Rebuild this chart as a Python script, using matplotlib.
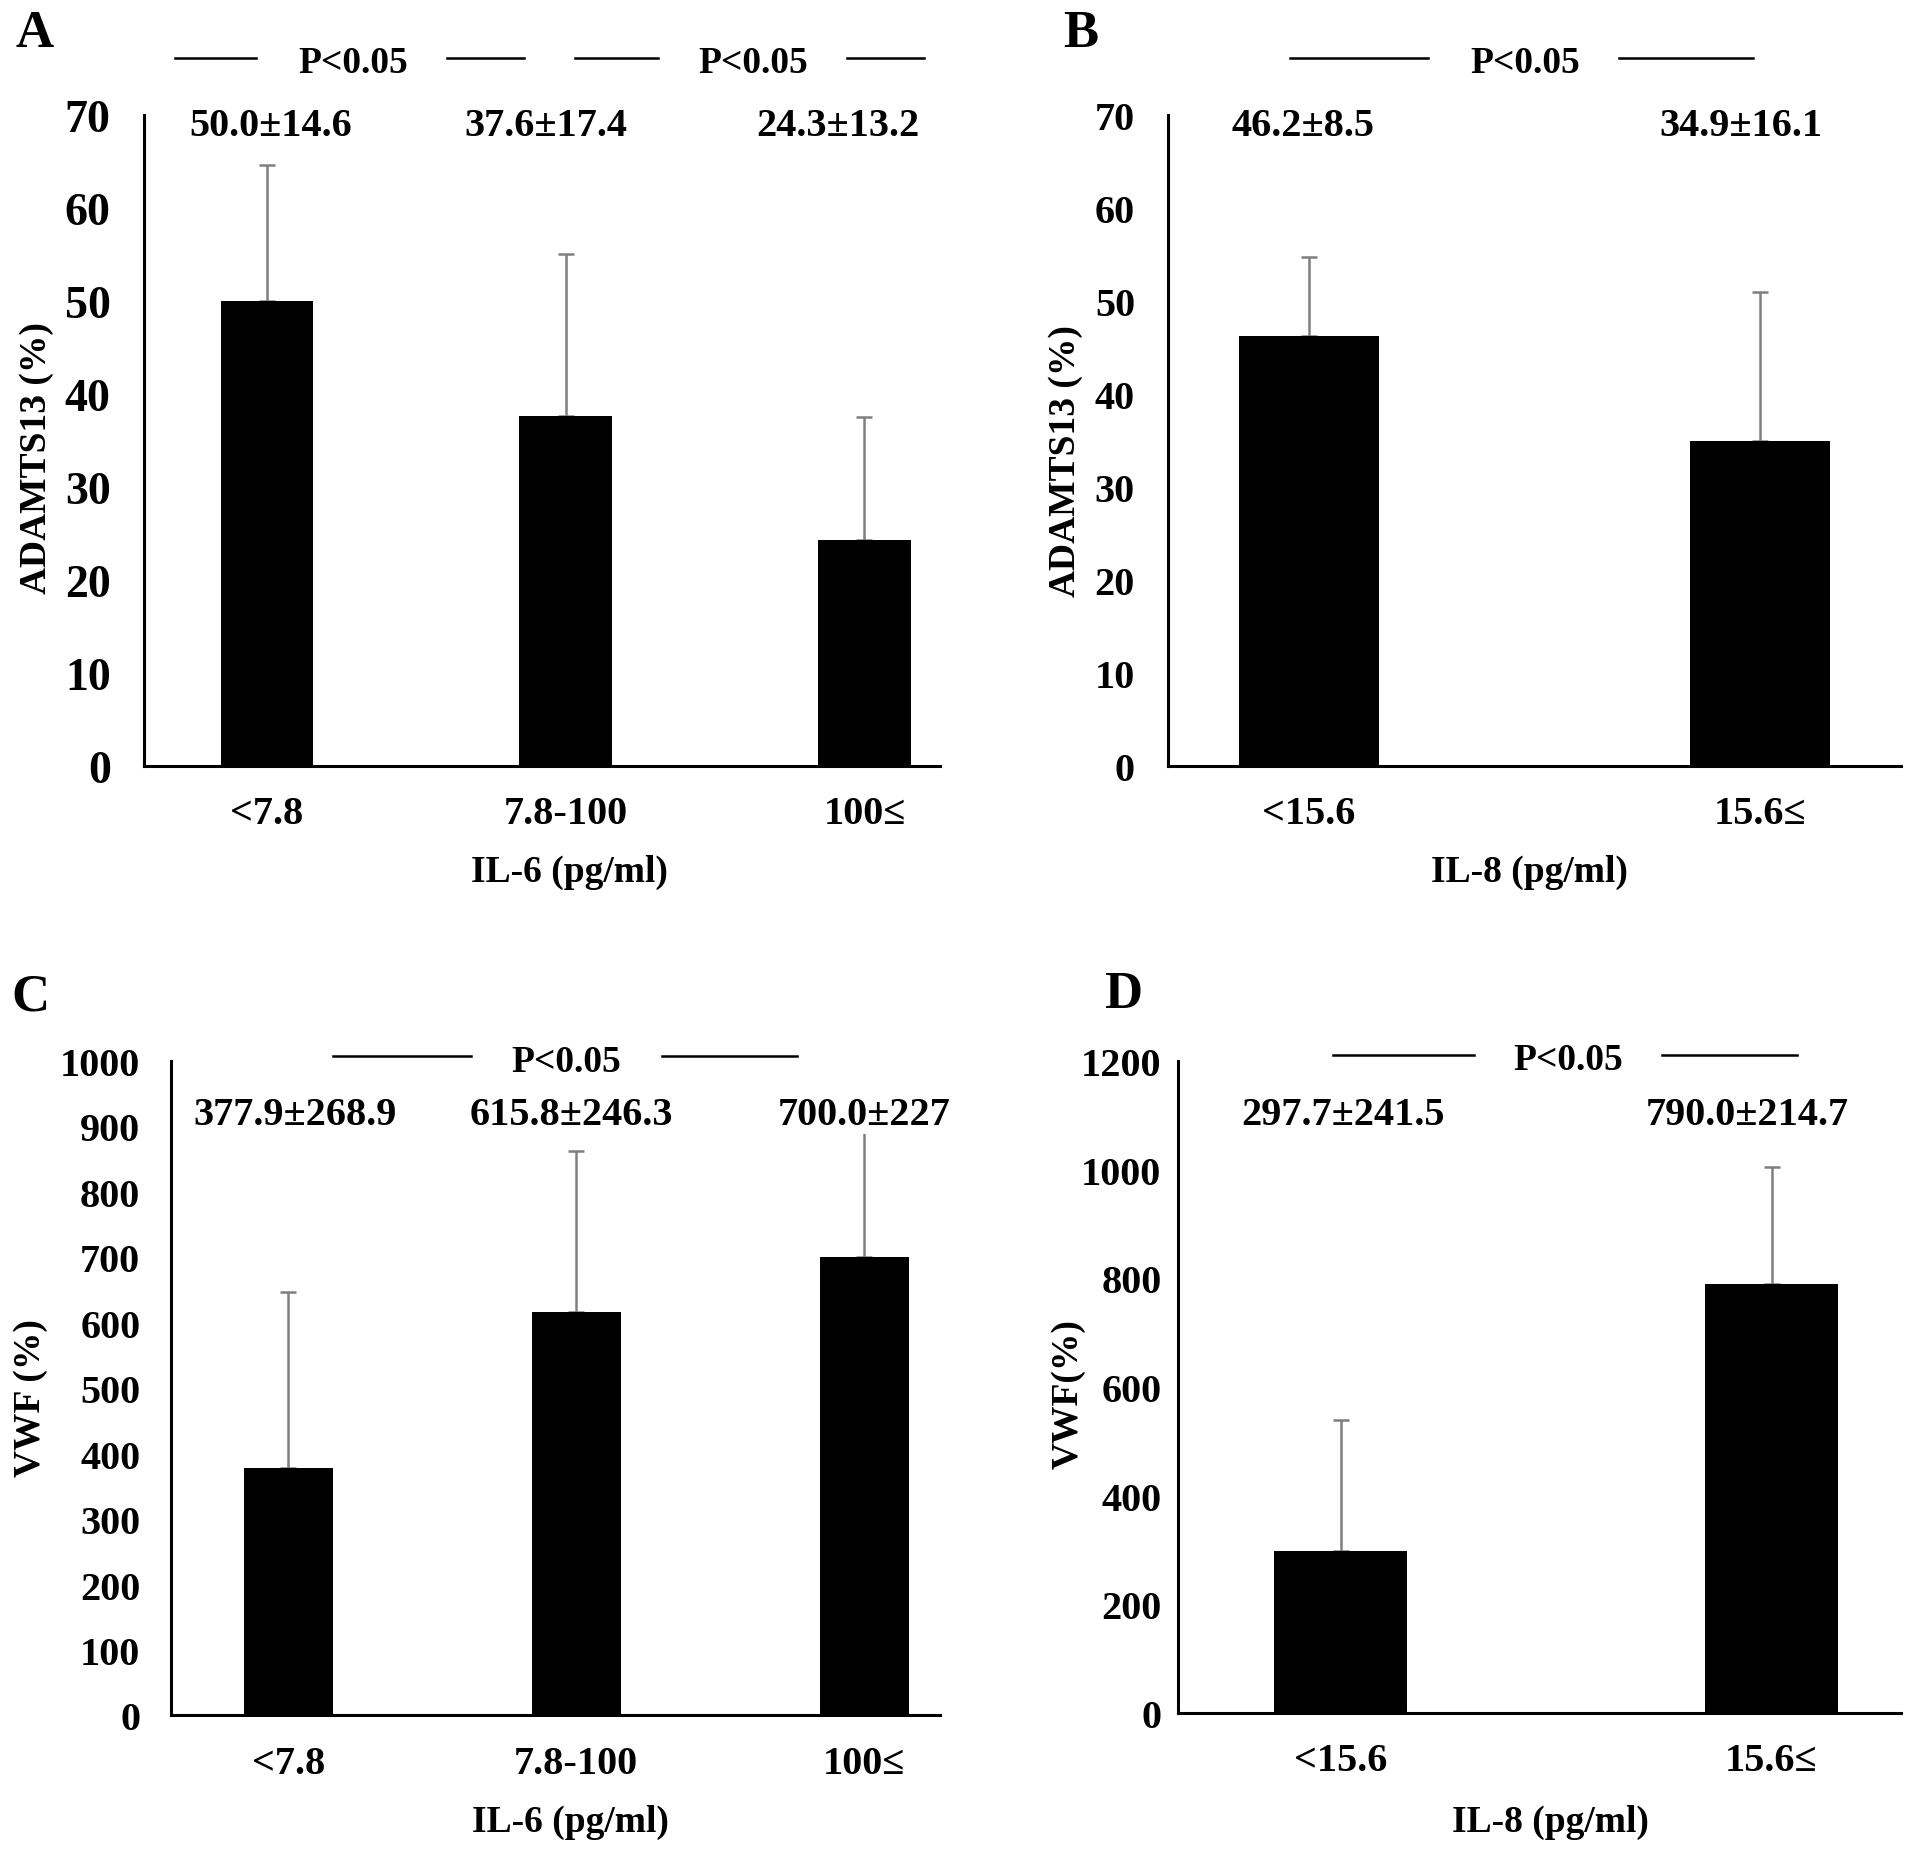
import matplotlib
matplotlib.use("Agg")
import matplotlib.pyplot as plt
import numpy as np

plt.rcParams['font.family'] = ['Liberation Serif', 'DejaVu Serif']
plt.rcParams['font.weight'] = 'bold'

# data
il6_groups = ['<7.8', '7.8-100', '100≤']
il8_groups = ['<15.6', '15.6≤']

adamts_il6_mean = [50.0, 37.6, 24.3]
adamts_il6_sd = [14.6, 17.4, 13.2]
adamts_il8_mean = [46.2, 34.9]
adamts_il8_sd = [8.5, 16.1]

vwf_il6_mean = [377.9, 615.8, 700.0]
vwf_il6_sd = [268.9, 246.3, 227.0]
vwf_il8_mean = [297.7, 790.0]
vwf_il8_sd = [241.5, 214.7]

adamts_il6_labels = ['50.0±14.6', '37.6±17.4', '24.3±13.2']
adamts_il8_labels = ['46.2±8.5', '34.9±16.1']
vwf_il6_labels = ['377.9±268.9', '615.8±246.3', '700.0±227']
vwf_il8_labels = ['297.7±241.5', '790.0±214.7']

W, H = 1567.0, 1522.0  # layout measured on reference


def box(l, r, b, t):
    return [l / W, 1 - b / H, (r - l) / W, (b - t) / H]


fig = plt.figure(figsize=(19.13, 18.58), dpi=100)


def panel(rect, groups, means, sds, labels, ylim, ystep, xlim, ylabel, xlabel,
          letter, letter_xy, label_y, sig, sig_y, ytick_size, ypad, ylab_xy, xlab_xy):
    ax = fig.add_axes(rect)
    x = np.arange(len(groups))
    ax.bar(x, means, width=0.31, color='black', zorder=2)
    ax.errorbar(x, means, yerr=[np.zeros(len(sds)), sds], fmt='none',
                ecolor='#7f7f7f', elinewidth=1.8, capsize=6, capthick=1.8, zorder=1)
    ax.set_xlim(*xlim)
    ax.set_ylim(0, ylim)
    ax.set_yticks(np.arange(0, ylim + 1, ystep))
    ax.set_xticks(x)
    ax.set_xticklabels(groups)
    ax.spines['top'].set_visible(False)
    ax.spines['right'].set_visible(False)
    ax.spines['left'].set_linewidth(2.2)
    ax.spines['bottom'].set_linewidth(2.2)
    ax.tick_params(axis='both', length=0)
    ax.tick_params(axis='y', labelsize=ytick_size, pad=ypad)
    ax.tick_params(axis='x', labelsize=29, pad=21)
    ax.set_ylabel(ylabel, fontsize=27, fontweight='bold')
    ax.yaxis.set_label_coords(*ylab_xy)
    ax.yaxis.label.set_va('center')
    ax.set_xlabel(xlabel, fontsize=27, fontweight='bold')
    ax.xaxis.set_label_coords(*xlab_xy)
    ax.xaxis.label.set_va('center')
    # value labels
    for xc, lab in zip(label_y[0], labels):
        fig.text(xc / W, 1 - label_y[1] / H, lab, fontsize=29, fontweight='bold',
                 ha='center', va='center',
                 bbox=dict(facecolor='white', edgecolor='none', pad=1), zorder=5)
    # significance marks
    for l1, l2, tx, r1, r2 in sig:
        for a, b in ((l1, l2), (r1, r2)):
            fig.add_artist(plt.Line2D([a / W, b / W], [1 - sig_y / H] * 2,
                                      color='black', lw=1.8))
        fig.text(tx / W, 1 - (sig_y + 4) / H, 'P<0.05', fontsize=27,
                 fontweight='bold', ha='center', va='center')
    fig.text(letter_xy[0] / W, 1 - letter_xy[1] / H, letter, fontsize=38,
             fontweight='bold', ha='center', va='center')
    return ax


panel(box(118, 770, 628, 95), il6_groups, adamts_il6_mean, adamts_il6_sd,
      adamts_il6_labels, 70, 10, (-0.412, 2.253), 'ADAMTS13 (%)', 'IL-6 (pg/ml)',
      'A', (28, 28), ([222, 447, 686], 104),
      [(143, 210, 289, 366, 429), (471, 539, 617, 694, 757)], 48,
      33, 24, (-0.135, 0.475), (0.535, -0.163))

panel(box(957, 1557, 628, 95), il8_groups, adamts_il8_mean, adamts_il8_sd,
      adamts_il8_labels, 70, 10, (-0.311, 1.311), 'ADAMTS13 (%)', 'IL-8 (pg/ml)',
      'B', (885, 28), ([1067, 1426], 104),
      [(1057, 1170, 1249, 1326, 1436)], 48,
      29, 24, (-0.14, 0.47), (0.493, -0.163))

panel(box(140, 770, 1406, 870), il6_groups, vwf_il6_mean, vwf_il6_sd,
      vwf_il6_labels, 1000, 100, (-0.407, 2.263), 'VWF (%)', 'IL-6 (pg/ml)',
      'C', (25, 817), ([242, 468, 708], 914),
      [(273, 386, 464, 542, 653)], 866,
      29, 22, (-0.183, 0.487), (0.519, -0.162))

panel(box(965, 1557, 1404, 870), il8_groups, vwf_il8_mean, vwf_il8_sd,
      vwf_il8_labels, 1200, 200, (-0.377, 1.30), 'VWF(%)', 'IL-8 (pg/ml)',
      'D', (920, 815), ([1100, 1431], 914),
      [(1092, 1207, 1285, 1361, 1472)], 865,
      29, 12, (-0.152, 0.49), (0.515, -0.167))

fig.savefig('out.png', dpi=100, facecolor='white')
